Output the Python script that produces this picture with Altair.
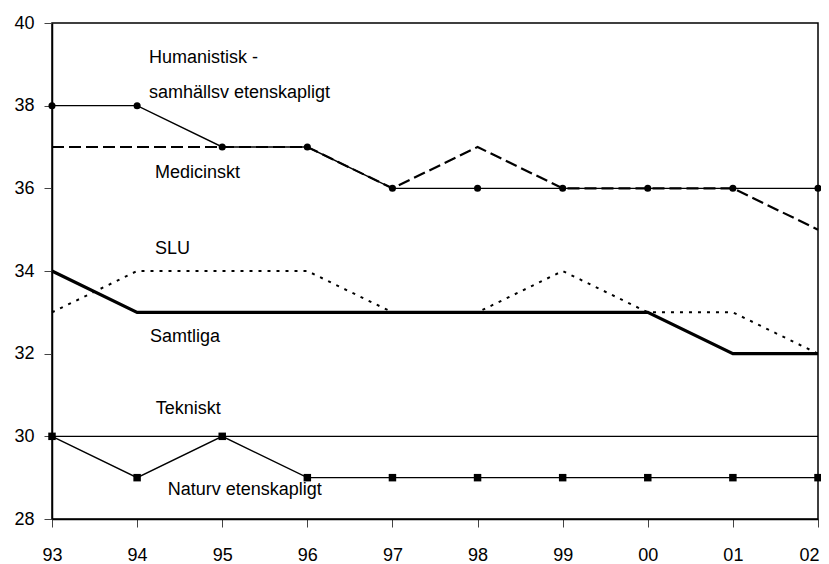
import altair as alt
import pandas as pd

years = ["93", "94", "95", "96", "97", "98", "99", "00", "01", "02"]

humanistisk = [38, 38, 37, 37, 36, 36, 36, 36, 36, 36]
medicinskt = [37, 37, 37, 37, 36, 37, 36, 36, 36, 35]
slu = [33, 34, 34, 34, 33, 33, 34, 33, 33, 32]
samtliga = [34, 33, 33, 33, 33, 33, 33, 33, 32, 32]
tekniskt = [30, 30, 30, 30, 30, 30, 30, 30, 30, 30]
naturvet = [30, 29, 30, 29, 29, 29, 29, 29, 29, 29]

label_texts = ["Humanistisk -", "samhällsv etenskapligt", "Medicinskt", "SLU",
               "Samtliga", "Tekniskt", "Naturv etenskapligt"]
label_x = [1.14, 1.14, 1.21, 1.21, 1.15, 1.22, 1.36]
label_y = [39.15, 38.31, 36.37, 34.53, 32.40, 30.66, 28.70]

idx = list(range(len(years)))

def frame(vals):
    return pd.DataFrame({"i": idx, "v": vals})

x_enc = alt.X("i:Q",
              scale=alt.Scale(domain=[0, 9], nice=False, zero=False),
              axis=alt.Axis(values=idx, title=None,
                            labelExpr="['93','94','95','96','97','98','99','00','01','02'][datum.value]",
                            labelPadding=19, labelAngle=0, labelFlush=False,
                            labelOffset={"condition": {"test": "datum.value == 9", "value": -9},
                                         "value": 0}))
y_enc = alt.Y("v:Q",
              scale=alt.Scale(domain=[28, 40], nice=False, zero=False),
              axis=alt.Axis(values=[28, 30, 32, 34, 36, 38, 40], title=None,
                            labelPadding=10, grid=False))

def line(vals, **kw):
    return alt.Chart(frame(vals)).mark_line(color="black", **kw).encode(x=x_enc, y=y_enc)

layers = [
    line(tekniskt, strokeWidth=1.4),
    line(naturvet, strokeWidth=1.4),
    alt.Chart(frame(naturvet)).mark_point(shape="square", filled=True, color="black",
                                          size=56, opacity=1).encode(x=x_enc, y=y_enc),
    line(slu, strokeWidth=2, strokeDash=[3, 6]),
    line(samtliga, strokeWidth=3.2),
    line(medicinskt, strokeWidth=2.2, strokeDash=[12, 5]),
    line(humanistisk, strokeWidth=1.4),
    alt.Chart(frame(humanistisk)).mark_point(shape="circle", filled=True, color="black",
                                             size=50, opacity=1).encode(x=x_enc, y=y_enc),
]

labels_df = pd.DataFrame({"t": label_texts, "i": label_x, "v": label_y})
labels = alt.Chart(labels_df).mark_text(
    align="left", baseline="middle", font="Liberation Sans", fontSize=18, color="black"
).encode(x=alt.X("i:Q"), y=alt.Y("v:Q"), text="t:N")

chart = alt.layer(*layers, labels).properties(
    width=766, height=496,
    autosize=alt.AutoSizeParams(type="none"),
    padding={"left": 44, "top": 15, "right": 3, "bottom": 60},
).configure_view(
    stroke="black", strokeWidth=1.5
).configure_axis(
    domainColor="black", domainWidth=1.5, tickColor="#444", tickWidth=1, tickSize=8,
    labelFont="Liberation Sans", labelFontSize=18, labelColor="black", grid=False
)

chart.save("out.html", embed_options={"renderer": "svg", "actions": False})
